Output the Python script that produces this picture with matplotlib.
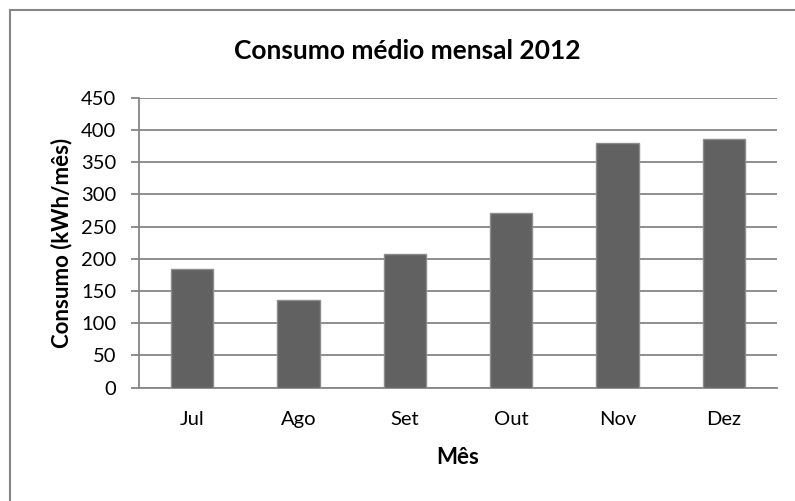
import matplotlib
matplotlib.use("Agg")
import matplotlib.pyplot as plt
from matplotlib.patches import Rectangle

months = ["Jul", "Ago", "Set", "Out", "Nov", "Dez"]
consumo = [184, 136, 207, 271, 380, 386]
yticks = [0, 50, 100, 150, 200, 250, 300, 350, 400, 450]

plt.rcParams["font.family"] = ["Lato", "DejaVu Sans"]

fig = plt.figure(figsize=(7.95, 5.01), dpi=100)
ax = fig.add_axes([139 / 795, 1 - 387.7 / 501, 638 / 795, 290 / 501])

grid_c = "#868686"
x = list(range(len(months)))
ax.bar(x, consumo, width=0.4, color="#616161", edgecolor="#8c8c8c",
       linewidth=1.0, zorder=3)

ax.set_xlim(-0.5, len(months) - 0.5)
ax.set_ylim(0, 450)
ax.set_yticks(yticks)
ax.set_yticklabels([str(v) for v in yticks])
ax.set_xticks(x)
ax.set_xticklabels(months)
ax.yaxis.grid(True, color=grid_c, linewidth=1.3, zorder=0)

for side in ("top", "right"):
    ax.spines[side].set_visible(False)
for side in ("left", "bottom"):
    ax.spines[side].set_color(grid_c)
    ax.spines[side].set_linewidth(1.3)

ax.tick_params(axis="y", direction="out", length=6, width=1.3, color=grid_c,
               pad=10.5, labelsize=14.5, labelcolor="black")
ax.tick_params(axis="x", length=0, pad=17, labelsize=14.5, labelcolor="black")

fig.text(407 / 795, 1 - 51 / 501, "Consumo médio mensal 2012", ha="center",
         va="center", fontsize=19, fontweight="bold")
fig.text(458 / 795, 1 - 457 / 501, "Mês", ha="center", va="center",
         fontsize=16, fontweight="bold")
fig.text(62 / 795, 1 - 242.7 / 501, "Consumo (kWh/mês)", ha="center",
         va="center", rotation=90, fontsize=16, fontweight="bold")

# chart frame
fig.patches.append(Rectangle((10 / 795, -0.1), 1.2, 1 - 9.5 / 501 + 0.1,
                             transform=fig.transFigure, fill=False,
                             edgecolor=grid_c, linewidth=1.5))

fig.savefig("out.png", dpi=100)
